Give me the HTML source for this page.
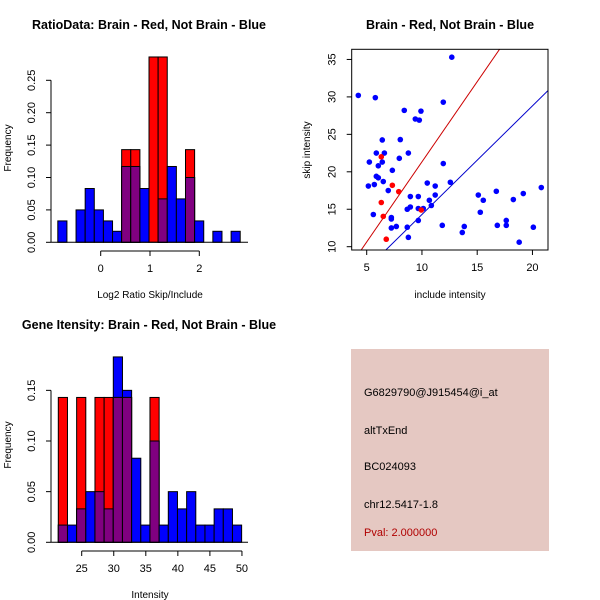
<!DOCTYPE html>
<html><head><meta charset="utf-8"><style>
body{margin:0;background:#fff}
svg{display:block;font-family:"Liberation Sans",sans-serif}
</style></head><body>
<svg id="c" width="600" height="600" viewBox="0 0 600 600">
<rect x="0" y="0" width="600" height="600" fill="#fff"/>
<g>
<rect x="351" y="349" width="198" height="202" fill="#e5c8c2"/>
<text x="364" y="396" font-size="11">G6829790@J915454@i_at</text>
<text x="364" y="434" font-size="11">altTxEnd</text>
<text x="364" y="470" font-size="11">BC024093</text>
<text x="364" y="508" font-size="11">chr12.5417-1.8</text>
<text x="364" y="536" font-size="11" fill="#b00000">Pval: 2.000000</text>
</g>
</svg>
<script>
// ratio histogram
const ratioStart=-0.87, ratioWidth=0.185;
const ratioBlue=[0.033,0,0.05,0.083,0.05,0.033,0.017,0.117,0.117,0.083,0,0.067,0.117,0.067,0.1,0.033,0,0.017,0,0.017];
const ratioRed=[0,0,0,0,0,0,0,0.143,0.143,0,0.286,0.286,0,0,0.143,0,0,0,0,0];
const ratioXTicks=[0,1,2];
const ratioYTicks=[0,0.05,0.10,0.15,0.20,0.25];
// intensity histogram
const intStart=21.35, intWidth=1.43;
const intBlue=[0.017,0.017,0.033,0.05,0.05,0.033,0.183,0.15,0.083,0.017,0.1,0.017,0.05,0.033,0.05,0.017,0.017,0.033,0.033,0.017];
const intRed=[0.143,0,0.143,0,0.143,0.143,0.143,0.143,0,0,0.143,0,0,0,0,0,0,0,0,0];
const intXTicks=[25,30,35,40,45,50];
const intYTicks=[0,0.05,0.10,0.15];
// scatter
const blueX=[4.24,5.78,12.7,11.93,8.4,9.91,9.4,9.76,6.41,8.04,5.87,6.6,8.77,7.95,5.24,6.41,6.05,11.93,7.32,5.87,6.05,5.15,5.69,6.5,6.95,10.48,11.2,12.57,8.95,9.67,11.2,10.67,10.85,8.95,8.67,9.67,10.12,9.67,5.6,7.23,7.23,7.23,7.68,8.67,8.77,11.84,13.83,13.65,15.1,15.55,15.28,16.73,16.82,17.63,17.63,18.27,19.17,18.8,20.08,20.8];
const blueY=[30.2,29.9,35.3,29.3,28.2,28.1,27.05,26.9,24.25,24.3,22.5,22.5,22.5,21.8,21.3,21.3,20.8,21.1,20.2,19.4,19.2,18.1,18.3,18.7,17.5,18.5,18.1,18.6,16.7,16.7,16.9,16.2,15.5,15.3,15,15.1,15.1,13.5,14.3,13.9,13.7,12.5,12.7,12.6,11.25,12.85,12.7,11.9,16.9,16.2,14.6,17.4,12.85,13.5,12.85,16.3,17.1,10.6,12.6,17.9];
const redX=[6.32,7.32,7.9,6.32,6.5,6.77,9.94];
const redY=[22,18.2,17.35,15.9,14.05,11,14.9];
const redSlope=2.14, redIntercept=-0.07;
const blueSlope=1.45, blueIntercept=-0.2;
const scXTicks=[5,10,15,20];
const scYTicks=[10,15,20,25,30,35];

const svg=document.getElementById('c');
const NS='http://www.w3.org/2000/svg';
function mk(tag,attrs,parent,name){const e=document.createElementNS(NS,tag);for(const k in attrs)e.setAttribute(k,attrs[k]);


(parent||svg).appendChild(e);return e;}
function txt(x,y,s,size,parent,name,extra){const t=mk('text',Object.assign({x:x,y:y,'font-size':size,'text-anchor':'middle'},extra||{}),parent,name);t.textContent=s;return t;}

function hist(o){
  const g=mk('g',{},svg,o.name);
  const sx=v=>o.x0+(v-o.xv0)*o.xs, sy=v=>o.y0-v*o.ys;
  for(let i=0;i<o.blue.length;i++){
    const a=sx(o.start+i*o.w), b=sx(o.start+(i+1)*o.w);
    const bl=o.blue[i], rd=o.red[i];
    if(bl>0) mk('rect',{x:a,y:sy(bl),width:b-a,height:sy(0)-sy(bl),fill:'#0000ff',stroke:'#000','stroke-width':1},g,'bar-blue-'+i);
    if(rd>0) mk('rect',{x:a,y:sy(rd),width:b-a,height:sy(0)-sy(rd),fill:'#ff0000',stroke:'#000','stroke-width':1},g,'bar-red-'+i);
    const m=Math.min(bl,rd);
    if(m>0) mk('rect',{x:a,y:sy(m),width:b-a,height:sy(0)-sy(m),fill:'#800080',stroke:'#000','stroke-width':1},g,'bar-overlap-'+i);
  }
  const xa=mk('g',{},g,'x-axis');
  const xt=o.xticks;
  mk('line',{x1:sx(xt[0]),x2:sx(xt[xt.length-1]),y1:o.axY,y2:o.axY,stroke:'#000'},xa,'x-axis-line');
  xt.forEach(v=>{mk('line',{x1:sx(v),x2:sx(v),y1:o.axY,y2:o.axY+5,stroke:'#000'},xa,'x-tick');
    txt(sx(v),o.axY+21,String(v),11,xa,'x-tick-label');});
  const ya=mk('g',{},g,'y-axis');
  const yt=o.yticks;
  mk('line',{x1:o.axX,x2:o.axX,y1:sy(yt[0]),y2:sy(yt[yt.length-1]),stroke:'#000'},ya,'y-axis-line');
  yt.forEach(v=>{mk('line',{x1:o.axX,x2:o.axX-5,y1:sy(v),y2:sy(v),stroke:'#000'},ya,'y-tick');
    txt(o.axX-16,sy(v),v.toFixed(2),11,ya,'y-tick-label',{transform:`rotate(-90 ${o.axX-16} ${sy(v)})`});});
  mk('line',{x1:o.plotL,x2:o.plotR,y1:sy(0),y2:sy(0),stroke:'#000'},g,'baseline');
  txt(o.titleX,o.titleY,o.title,12.5,g,'chart-title',{'font-weight':'bold'});
  txt(o.xlabX,o.xlabY,o.xlab,10,g,'x-axis-title');
  txt(11,o.ylabY,'Frequency',10,g,'y-axis-title',{transform:`rotate(-90 11 ${o.ylabY})`});
}
hist({name:'ratio-histogram',x0:100.7,xv0:0,xs:49.3,y0:242.3,ys:648,start:ratioStart,w:ratioWidth,blue:ratioBlue,red:ratioRed,
  xticks:ratioXTicks,yticks:ratioYTicks,axY:251,axX:51,plotL:51,plotR:248,title:'RatioData: Brain - Red, Not Brain - Blue',titleX:149,titleY:29,xlab:'Log2 Ratio Skip/Include',xlabX:150,xlabY:298,ylabY:148});
hist({name:'intensity-histogram',x0:81.7,xv0:25,xs:6.41,y0:542.3,ys:1013,start:intStart,w:intWidth,blue:intBlue,red:intRed,
  xticks:intXTicks,yticks:intYTicks,axY:551,axX:51,plotL:51,plotR:248,title:'Gene Itensity: Brain - Red, Not Brain - Blue',titleX:149,titleY:329,xlab:'Intensity',xlabX:150,xlabY:598,ylabY:445});

(function(){
  const g=mk('g',{},svg,'scatter-plot');
  const L=351.7,R=548,T=49.3,B=250;
  const sx=v=>366.7+(v-5)*11.05, sy=v=>246.7-(v-10)*7.49;
  const cp=mk('clipPath',{id:'sc'},g,'scatter-clip');
  mk('rect',{x:L,y:T,width:R-L,height:B-T},cp,'clip-rect');
  const lx0=0,lx1=30;
  mk('line',{x1:sx(lx0),y1:sy(redSlope*lx0+redIntercept),x2:sx(lx1),y2:sy(redSlope*lx1+redIntercept),stroke:'#cc0000','stroke-width':1,'clip-path':'url(#sc)'},g,'red-fit-line');
  mk('line',{x1:sx(lx0),y1:sy(blueSlope*lx0+blueIntercept),x2:sx(lx1),y2:sy(blueSlope*lx1+blueIntercept),stroke:'#0000cc','stroke-width':1,'clip-path':'url(#sc)'},g,'blue-fit-line');
  blueX.forEach((x,i)=>mk('circle',{cx:sx(x),cy:sy(blueY[i]),r:2.8,fill:'#0000ff'},g,'point-blue'));
  redX.forEach((x,i)=>mk('circle',{cx:sx(x),cy:sy(redY[i]),r:2.8,fill:'#ff0000'},g,'point-red'));
  mk('rect',{x:L,y:T,width:R-L,height:B-T,fill:'none',stroke:'#000'},g,'plot-frame');
  scXTicks.forEach(v=>{mk('line',{x1:sx(v),x2:sx(v),y1:B,y2:B+5,stroke:'#000'},g,'x-tick');txt(sx(v),B+21,String(v),11,g,'x-tick-label');});
  scYTicks.forEach(v=>{mk('line',{x1:L,x2:L-5,y1:sy(v),y2:sy(v),stroke:'#000'},g,'y-tick');txt(L-16,sy(v),String(v),11,g,'y-tick-label',{transform:`rotate(-90 ${L-16} ${sy(v)})`});});
  txt(450,29,'Brain - Red, Not Brain - Blue',12.5,g,'chart-title',{'font-weight':'bold'});
  txt(450,298,'include intensity',10,g,'x-axis-title');
  txt(310,150,'skip intensity',10,g,'y-axis-title',{transform:'rotate(-90 310 150)'});
})();
</script>
</body></html>
